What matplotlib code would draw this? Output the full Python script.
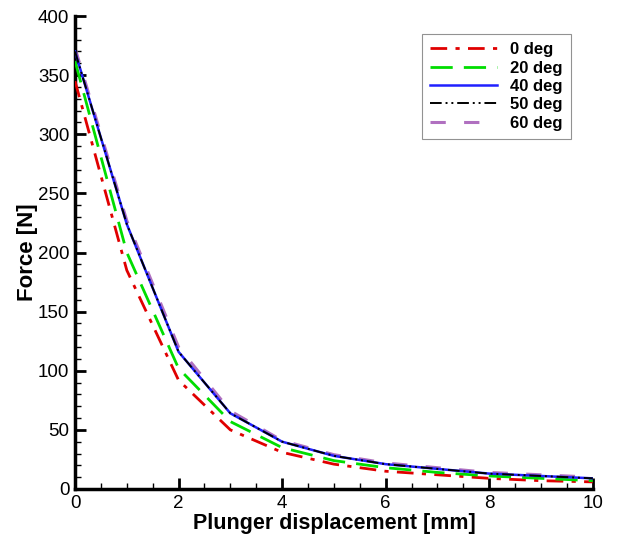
import matplotlib
matplotlib.use("Agg")
import matplotlib.pyplot as plt
from matplotlib.ticker import MultipleLocator

plt.rcParams['font.family'] = ['Liberation Sans', 'DejaVu Sans']

x = [0, 1, 2, 3, 4, 5, 6, 7, 8, 9, 10]
f0 = [345, 185, 92, 50, 31, 21, 15, 12, 9, 7, 6]
f20 = [362, 200, 102, 57, 35, 24, 18, 14, 11, 9, 7]
f40 = [370, 224, 116, 64, 40, 28, 21, 17, 13, 11, 9]
f50 = [370, 224, 116, 64, 40, 28, 21, 17, 13, 11, 9]
f60 = [373, 227, 120, 66, 41, 29, 22, 18, 14, 12, 10]
labels = ['0 deg', '20 deg', '40 deg', '50 deg', '60 deg']

fig = plt.figure(figsize=(6.22, 5.34), dpi=100)
ax = fig.add_axes([0.1206, 0.0843, 0.8324, 0.8857])

l0, = ax.plot(x, f0, color='#e00000', lw=2, ls=(0, (6, 3, 1.5, 3)), zorder=3)
l20, = ax.plot(x, f20, color='#00dd00', lw=2, ls=(0, (8, 4)), zorder=3)
l60, = ax.plot(x, f60, color='#b070c0', lw=2.2, ls=(0, (5, 6)), zorder=2)
l40, = ax.plot(x, f40, color='#2020ff', lw=1.8, ls='-', zorder=4)
l50, = ax.plot(x, f50, color='black', lw=1.4, ls=(0, (6, 2, 1, 2, 1, 2)), zorder=5)

leg = ax.legend([l0, l20, l40, l50, l60], labels, loc='upper right',
                bbox_to_anchor=(0.958, 0.962), frameon=True, fancybox=False,
                handlelength=4.0, prop={'weight': 'bold', 'size': 12},
                borderpad=0.5, labelspacing=0.2, handletextpad=0.8,
                borderaxespad=0)
leg.get_frame().set_edgecolor('#777777')
leg.get_frame().set_linewidth(0.8)

ax.set_xlim(0, 10)
ax.set_ylim(0, 400)
ax.xaxis.set_major_locator(MultipleLocator(2))
ax.xaxis.set_minor_locator(MultipleLocator(0.5))
ax.yaxis.set_major_locator(MultipleLocator(50))
ax.yaxis.set_minor_locator(MultipleLocator(10))
ax.tick_params(which='major', direction='in', length=8, width=2, labelsize=13.5, pad=4)
ax.tick_params(which='minor', direction='in', length=4, width=1)
ax.spines['top'].set_visible(False)
ax.spines['right'].set_visible(False)
ax.spines['left'].set_linewidth(2.5)
ax.spines['bottom'].set_linewidth(2.5)

ax.set_xlabel('Plunger displacement [mm]', fontsize=15.5, fontweight='bold', labelpad=1)
ax.set_ylabel('Force [N]', fontsize=16, fontweight='bold', labelpad=0)

fig.savefig('out.png', dpi=100)
